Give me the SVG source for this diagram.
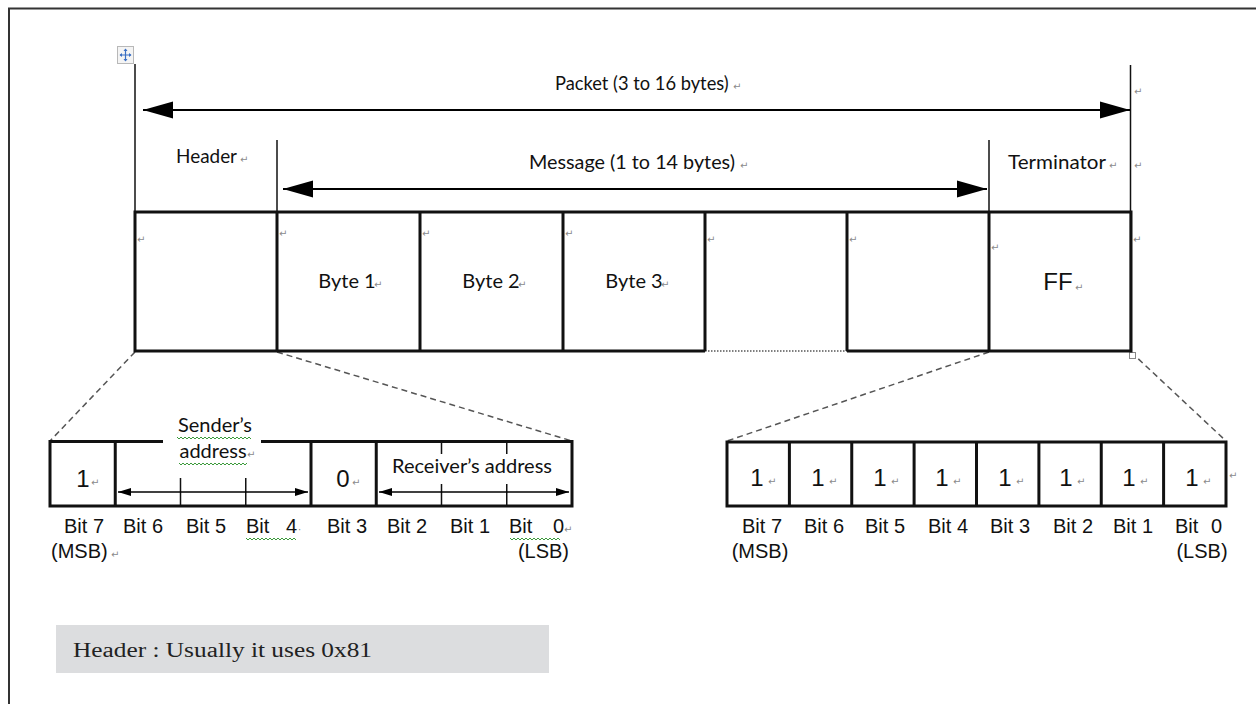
<svg xmlns="http://www.w3.org/2000/svg" width="1256" height="704" viewBox="0 0 1256 704">
<defs>
<style>
.cal{font-family:Lato,"Open Sans","Liberation Sans",sans-serif;font-size:20px;fill:#111}
.ar{font-family:"Liberation Sans",Arial,sans-serif;font-size:20px;fill:#111}
.big{font-family:"Liberation Sans",Arial,sans-serif;font-size:24px;fill:#111}
.rm{font-family:"DejaVu Sans",sans-serif;font-size:10px;fill:#8a8a8a}
.box{fill:none;stroke:#111;stroke-width:3}
.thin{stroke:#111;stroke-width:1.5;fill:none}
.dash{stroke:#555;stroke-width:1.5;stroke-dasharray:6 4;fill:none}
.sq{stroke:#3a9a3a;stroke-width:1;fill:none}
</style>
<marker id="bigL" markerWidth="32" markerHeight="20" refX="0" refY="10" orient="auto" markerUnits="userSpaceOnUse"><path d="M0,10 L30,1.5 L30,18.5 Z" fill="#000"/></marker>
<marker id="bigR" markerWidth="32" markerHeight="20" refX="30" refY="10" orient="auto" markerUnits="userSpaceOnUse"><path d="M30,10 L0,1.5 L0,18.5 Z" fill="#000"/></marker>
<marker id="smL" markerWidth="14" markerHeight="10" refX="0" refY="5" orient="auto" markerUnits="userSpaceOnUse"><path d="M0,5 L13,1 L13,9 Z" fill="#000"/></marker>
<marker id="smR" markerWidth="14" markerHeight="10" refX="13" refY="5" orient="auto" markerUnits="userSpaceOnUse"><path d="M13,5 L0,1 L0,9 Z" fill="#000"/></marker>
</defs>
<rect width="1256" height="704" fill="#fff"/>
<!-- frame -->
<path d="M9,704 V8.5 H1256" stroke="#333" stroke-width="2" fill="none"/>

<!-- move handle -->
<g id="handle">
<rect x="117.5" y="46.5" width="16" height="17" fill="#f4f4f4" stroke="#b8b8b8"/>
<path d="M125.5,49 V61 M120,55 H131" stroke="#3a6fc4" stroke-width="1.2"/>
<path d="M125.5,48.5 l-2,2.5 h4 Z M125.5,61.5 l-2,-2.5 h4 Z M119.5,55 l2.5,-2 v4 Z M131.5,55 l-2.5,-2 v4 Z" fill="#3a6fc4"/>
</g>

<!-- connectors / guides -->
<g id="connectors">
<path class="thin" d="M135,64 V352"/>
<path class="thin" d="M1130.5,65 V352"/>
<path class="thin" d="M277,140 V352"/>
<path class="thin" d="M989,140 V352"/>
<line x1="143" y1="110" x2="1130" y2="110" stroke="#000" stroke-width="2" marker-start="url(#bigL)" marker-end="url(#bigR)"/>
<line x1="283" y1="189" x2="987" y2="189" stroke="#000" stroke-width="2" marker-start="url(#bigL)" marker-end="url(#bigR)"/>
<path class="dash" d="M135,352 L50,441"/>
<path class="dash" d="M277,352 L572,441"/>
<path class="dash" d="M989,352 L727,441"/>
<path class="dash" d="M1131,352 L1226,441"/>
<rect x="1129.5" y="352.5" width="6" height="6" fill="#fff" stroke="#888"/>
</g>

<!-- top labels -->
<g id="labels">
<text class="cal" x="555" y="90" style="font-size:18.3px">Packet (3 to 16 bytes)</text>
<text class="rm" x="733" y="90">↵</text>
<text class="rm" x="1134" y="95">↵</text>
<text class="cal" x="176" y="163" textLength="61" lengthAdjust="spacingAndGlyphs">Header</text>
<text class="rm" x="240" y="163">↵</text>
<text class="cal" x="529" y="169" textLength="206" lengthAdjust="spacingAndGlyphs">Message (1 to 14 bytes)</text>
<text class="rm" x="740" y="169">↵</text>
<text class="cal" x="1008" y="169" textLength="98" lengthAdjust="spacingAndGlyphs">Terminator</text>
<text class="rm" x="1109" y="169">↵</text>
<text class="rm" x="1134" y="169">↵</text>
</g>

<!-- packet row -->
<g id="packet">
<path class="box" d="M705,212 H135 V351 H705 M847,351 H1131 V212 H705"/>
<path d="M705,351 H847" stroke="#555" stroke-width="1.5" stroke-dasharray="1.5 1.5"/>
<path class="box" d="M277,212 V351 M420,212 V351 M563,212 V351 M705,212 V351 M847,212 V351 M989,212 V351"/>
<text class="rm" x="137" y="243">↵</text>
<text class="rm" x="279" y="237">↵</text>
<text class="rm" x="422" y="237">↵</text>
<text class="rm" x="565" y="237">↵</text>
<text class="rm" x="707" y="243">↵</text>
<text class="rm" x="849" y="243">↵</text>
<text class="rm" x="991" y="251">↵</text>
<text class="rm" x="1133" y="243">↵</text>
</g>
<g id="byte1"><text class="cal" x="347" y="288" text-anchor="middle">Byte 1</text><text class="rm" x="374" y="288">↵</text></g>
<g id="byte2"><text class="cal" x="491" y="288" text-anchor="middle">Byte 2</text><text class="rm" x="518" y="288">↵</text></g>
<g id="byte3"><text class="cal" x="634" y="288" text-anchor="middle">Byte 3</text><text class="rm" x="661" y="288">↵</text></g>
<g id="ff"><text class="big" x="1058" y="290" text-anchor="middle">FF</text><text class="rm" x="1075" y="291">↵</text></g>

<!-- header bits -->
<g id="header-bits">
<path class="box" d="M163,441.5 H50 V506 H572 V441.5 H261"/>
<path class="box" d="M115.25,441 V506 M311,441 V506 M376.25,441 V506"/>
<path class="thin" stroke-width="2" d="M180.5,478 V506 M245.75,478 V506 M441.5,441 V454 M441.5,484 V506 M506.75,441 V454 M506.75,484 V506"/>
<line x1="118" y1="492" x2="308" y2="492" stroke="#000" stroke-width="1.5" marker-start="url(#smL)" marker-end="url(#smR)"/>
<line x1="379" y1="492" x2="569" y2="492" stroke="#000" stroke-width="1.5" marker-start="url(#smL)" marker-end="url(#smR)"/>
<text class="big" x="83" y="487" text-anchor="middle">1</text><text class="rm" x="91" y="486">↵</text>
<text class="big" x="343" y="487" text-anchor="middle">0</text><text class="rm" x="352" y="486">↵</text>
<text class="cal" x="215" y="432" text-anchor="middle">Sender’s</text>
<text class="cal" x="213" y="458" text-anchor="middle">address</text><text class="rm" x="247" y="458">↵</text>
<path class="sq" d="M177,437 l2,2 l2,-2 l2,2 l2,-2 l2,2 l2,-2 l2,2 l2,-2 l2,2 l2,-2 l2,2 l2,-2 l2,2 l2,-2 l2,2 l2,-2 l2,2 l2,-2 l2,2 l2,-2 l2,2 l2,-2 l2,2 l2,-2 l2,2 l2,-2 l2,2 l2,-2 l2,2 l2,-2 l2,2 l2,-2 l2,2 l2,-2 l2,2 l2,-2 l2,2"/>
<path class="sq" d="M179,463 l2,2 l2,-2 l2,2 l2,-2 l2,2 l2,-2 l2,2 l2,-2 l2,2 l2,-2 l2,2 l2,-2 l2,2 l2,-2 l2,2 l2,-2 l2,2 l2,-2 l2,2 l2,-2 l2,2 l2,-2 l2,2 l2,-2 l2,2 l2,-2 l2,2 l2,-2 l2,2 l2,-2 l2,2 l2,-2 l2,2 l2,-2"/>
<text class="cal" x="472" y="473" text-anchor="middle" textLength="160" lengthAdjust="spacingAndGlyphs">Receiver’s address</text>
<text class="ar" x="84" y="533" text-anchor="middle">Bit 7</text>
<text class="ar" x="143" y="533" text-anchor="middle">Bit 6</text>
<text class="ar" x="206" y="533" text-anchor="middle">Bit 5</text>
<text class="ar" x="246" y="533">Bit</text><text class="ar" x="286" y="533">4</text><text class="rm" x="298" y="533">·</text>
<text class="ar" x="347" y="533" text-anchor="middle">Bit 3</text>
<text class="ar" x="407" y="533" text-anchor="middle">Bit 2</text>
<text class="ar" x="470" y="533" text-anchor="middle">Bit 1</text>
<text class="ar" x="509" y="533">Bit</text><text class="ar" x="553" y="533">0</text><text class="rm" x="564" y="533">↵</text>
<path class="sq" d="M246,538 l2,2 l2,-2 l2,2 l2,-2 l2,2 l2,-2 l2,2 l2,-2 l2,2 l2,-2 l2,2 l2,-2 l2,2 l2,-2 l2,2 l2,-2 l2,2 l2,-2 l2,2 l2,-2 l2,2 l2,-2 l2,2 l2,-2 l2,2"/>
<path class="sq" d="M510,538 l2,2 l2,-2 l2,2 l2,-2 l2,2 l2,-2 l2,2 l2,-2 l2,2 l2,-2 l2,2 l2,-2 l2,2 l2,-2 l2,2 l2,-2 l2,2 l2,-2 l2,2 l2,-2 l2,2 l2,-2 l2,2 l2,-2 l2,2"/>
<text class="ar" x="51" y="558">(MSB)</text><text class="rm" x="111" y="558">↵</text>
<text class="ar" x="569" y="558" text-anchor="end">(LSB)</text>
</g>

<!-- terminator bits -->
<g id="terminator-bits">
<rect class="box" x="727" y="442" width="499" height="64"/>
<path class="box" d="M789.4,442 V506 M851.75,442 V506 M914.1,442 V506 M976.5,442 V506 M1038.9,442 V506 M1101.25,442 V506 M1163.6,442 V506"/>
<g class="big" text-anchor="middle">
<text x="757" y="486">1</text><text x="818" y="486">1</text><text x="880" y="486">1</text><text x="942" y="486">1</text>
<text x="1005" y="486">1</text><text x="1066" y="486">1</text><text x="1129" y="486">1</text><text x="1192" y="486">1</text>
</g>
<g class="rm">
<text x="768" y="485">↵</text><text x="829" y="485">↵</text><text x="891" y="485">↵</text><text x="953" y="485">↵</text>
<text x="1016" y="485">↵</text><text x="1077" y="485">↵</text><text x="1140" y="485">↵</text><text x="1203" y="485">↵</text>
<text x="1229" y="479">↵</text>
</g>
<g class="ar" text-anchor="middle">
<text x="762" y="533">Bit 7</text><text x="824" y="533">Bit 6</text><text x="885" y="533">Bit 5</text><text x="948" y="533">Bit 4</text>
<text x="1010" y="533">Bit 3</text><text x="1073" y="533">Bit 2</text><text x="1133" y="533">Bit 1</text>
<text x="760" y="558">(MSB)</text><text x="1202" y="558">(LSB)</text>
</g>
<text class="ar" x="1175" y="533">Bit</text><text class="ar" x="1211" y="533">0</text>
</g>

<!-- note -->
<g id="note">
<rect x="56" y="625" width="493" height="48" fill="#dcdddf"/>
<text x="73" y="657" font-family="'Liberation Serif','DejaVu Serif',serif" font-size="20" fill="#222" textLength="299" lengthAdjust="spacingAndGlyphs">Header : Usually it uses 0x81</text>
</g>
</svg>
